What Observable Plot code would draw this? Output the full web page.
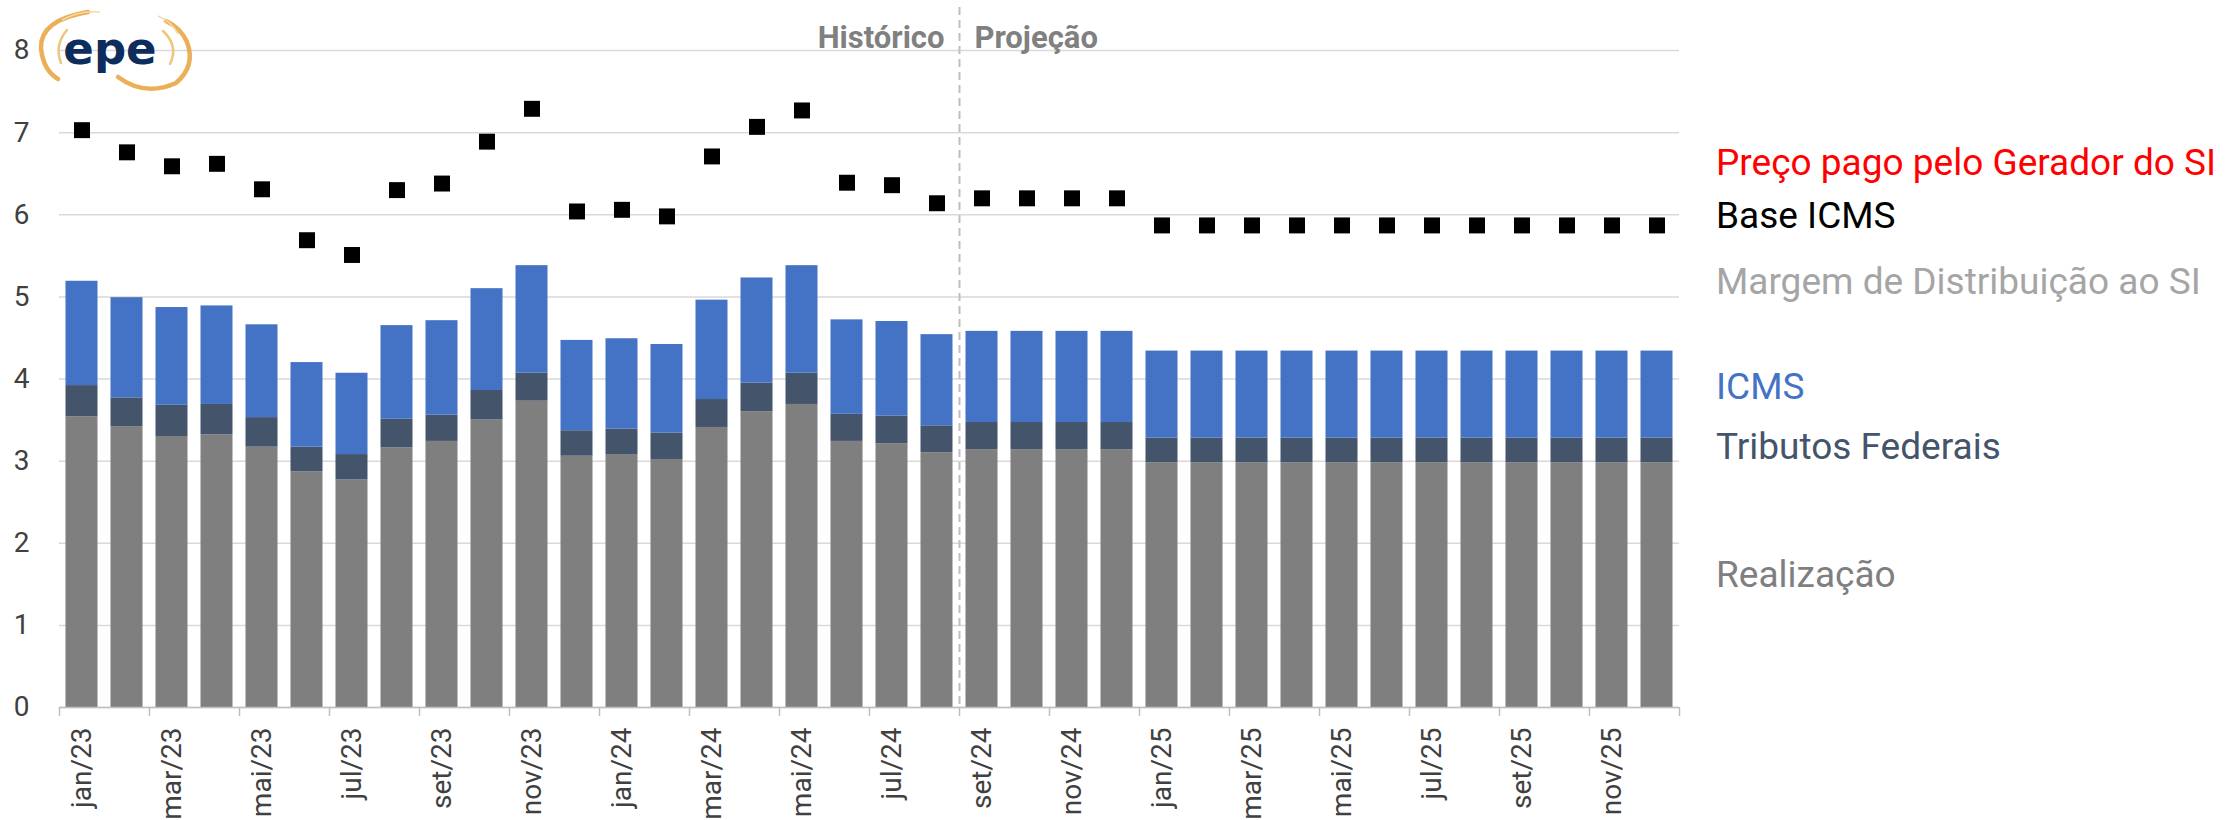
<!DOCTYPE html>
<html><head><meta charset="utf-8">
<script src="https://cdn.jsdelivr.net/npm/d3@7"></script>
<script src="https://cdn.jsdelivr.net/npm/@observablehq/plot@0.6"></script>
<style>
html,body{margin:0;padding:0;background:#fff;}
#wrap{position:relative;width:2229px;height:820px;overflow:hidden;font-family:Roboto,"Noto Sans",sans-serif;}
#legend div{position:absolute;left:1716px;white-space:nowrap;font-size:37px;line-height:1;transform:translateY(-50%);}
#logo{position:absolute;left:0;top:0;}
</style></head><body>
<div id="wrap"><div id="chart"></div><div id="legend"></div>
<svg id="logo" width="200" height="100" viewBox="0 0 200 100">
  <path d="M88,12 Q40,20 41,48 Q43,70 58,79" fill="none" stroke="#e8a23a" stroke-width="4.5" stroke-linecap="round" opacity="0.85"/>
  <path d="M118,77 Q145,97 176,83 Q196,66 187,42 Q181,28 166,21" fill="none" stroke="#e8a23a" stroke-width="4.5" stroke-linecap="round" opacity="0.85"/>
  <path d="M67,30 Q54,45 61,63" fill="none" stroke="#efc57e" stroke-width="2.5" stroke-linecap="round"/>
  <path d="M163,31 Q179,46 170,64" fill="none" stroke="#efc57e" stroke-width="2.5" stroke-linecap="round"/>
  <path d="M62,20 Q80,10 100,12" fill="none" stroke="#f3d9a8" stroke-width="1.5"/>
  <path d="M158,16 Q172,22 178,34" fill="none" stroke="#f3d9a8" stroke-width="1.5"/>
  <text x="110" y="64" text-anchor="middle" font-family="DejaVu Sans" font-weight="bold" font-size="45" fill="#0d2d5c">epe</text>
</svg>
</div>
<script>
const months = ["jan/23","fev/23","mar/23","abr/23","mai/23","jun/23","jul/23","ago/23","set/23","out/23","nov/23","dez/23",
  "jan/24","fev/24","mar/24","abr/24","mai/24","jun/24","jul/24","ago/24","set/24","out/24","nov/24","dez/24",
  "jan/25","fev/25","mar/25","abr/25","mai/25","jun/25","jul/25","ago/25","set/25","out/25","nov/25","dez/25"];
const realizacao = [3.54,3.42,3.30,3.32,3.17,2.87,2.77,3.16,3.24,3.50,3.73,3.06,
  3.08,3.02,3.41,3.60,3.69,3.24,3.21,3.10,3.14,3.14,3.14,3.14,
  2.98,2.98,2.98,2.98,2.98,2.98,2.98,2.98,2.98,2.98,2.98,2.98];
const tributosFederais = [0.38,0.35,0.38,0.37,0.36,0.30,0.31,0.35,0.32,0.36,0.34,0.31,
  0.31,0.32,0.34,0.35,0.38,0.33,0.34,0.33,0.33,0.33,0.33,0.33,
  0.30,0.30,0.30,0.30,0.30,0.30,0.30,0.30,0.30,0.30,0.30,0.30];
const icms = [1.27,1.22,1.19,1.20,1.13,1.03,0.99,1.14,1.15,1.24,1.31,1.10,
  1.10,1.08,1.21,1.28,1.31,1.15,1.15,1.11,1.11,1.11,1.11,1.11,
  1.06,1.06,1.06,1.06,1.06,1.06,1.06,1.06,1.06,1.06,1.06,1.06];
const baseIcms = [7.03,6.76,6.59,6.62,6.31,5.69,5.51,6.30,6.38,6.89,7.29,6.04,
  6.06,5.98,6.71,7.07,7.27,6.39,6.36,6.14,6.20,6.20,6.20,6.20,
  5.87,5.87,5.87,5.87,5.87,5.87,5.87,5.87,5.87,5.87,5.87,5.87];
const seriesNames = ["Realização","Tributos Federais","ICMS"];
const seriesColors = ["#7f7f7f","#44546a","#4472c4"];
const yTicks = [0,1,2,3,4,5,6,7,8];
const periodLabels = ["Histórico","Projeção"];
const projectionStart = 20;
const legendLabels = ["Preço pago pelo Gerador do SI","Base ICMS","Margem de Distribuição ao SI","ICMS","Tributos Federais","Realização"];
const legendColors = ["#ff0000","#000000","#a5a5a5","#4472c4","#44546a","#7f7f7f"];
const legendCenters = [162,215,281,386,446,574];

// build stacked rows
const seriesValues = [realizacao, tributosFederais, icms];
const rows = [];
months.forEach((m, i) => {
  let cum = 0;
  seriesValues.forEach((vals, s) => {
    rows.push({i, i2: i + 1, serie: seriesNames[s], y1: cum, y2: cum + vals[i]});
    cum += vals[i];
  });
});
const boundaries = d3.range(0, months.length + 1, 2);
const labelPos = d3.range(0, months.length, 2).map(i => i + 0.5);
const font = "Roboto, 'Noto Sans', sans-serif";

const chart = Plot.plot({
  width: 2229, height: 820,
  marginLeft: 59, marginRight: 550, marginTop: 50, marginBottom: 113,
  style: {fontFamily: font, background: "white", overflow: "visible"},
  x: {domain: [0, months.length], axis: null},
  y: {domain: [0, 8], axis: null},
  color: {domain: seriesNames, range: seriesColors},
  marks: [
    Plot.gridY(yTicks, {stroke: "#d9d9d9", strokeOpacity: 1, strokeWidth: 1.5}),
    Plot.axisY(yTicks, {tickSize: 0, tickPadding: 30, fontSize: 28, fill: "#404040", tickFormat: d => String(d)}),
    Plot.rectY(rows, {x1: "i", x2: "i2", y1: "y1", y2: "y2", fill: "serie", insetLeft: 6.5, insetRight: 6.5}),
    Plot.ruleY([0], {stroke: "#bfbfbf", strokeWidth: 1.5}),
    Plot.ruleX(boundaries, {x: d => d, y1: 0, y2: 0, insetBottom: -9, stroke: "#bfbfbf", strokeWidth: 1.5}),
    Plot.axisX(labelPos, {tickSize: 0, tickPadding: 20, tickRotate: -90, fontSize: 28, fill: "#404040",
      tickFormat: v => months[Math.round(v - 0.5)]}),
    Plot.ruleX([projectionStart], {stroke: "#bfbfbf", strokeWidth: 2, strokeDasharray: "8,5", insetTop: -43}),
    Plot.text([periodLabels[0]], {x: projectionStart, frameAnchor: "top", dy: -25, dx: -15, textAnchor: "end",
      fontSize: 31, fontWeight: "bold", fill: "#808080", text: d => d}),
    Plot.text([periodLabels[1]], {x: projectionStart, frameAnchor: "top", dy: -25, dx: 15, textAnchor: "start",
      fontSize: 31, fontWeight: "bold", fill: "#808080", text: d => d}),
    Plot.dot(baseIcms, {x: (d, i) => i + 0.5, y: d => d, symbol: "square", r: 9, fill: "black", stroke: "none"})
  ]
});
document.getElementById("chart").append(chart);

const legend = document.getElementById("legend");
legendLabels.forEach((lab, k) => {
  const div = document.createElement("div");
  div.textContent = lab;
  div.style.color = legendColors[k];
  div.style.top = legendCenters[k] + "px";
  legend.append(div);
});
</script>
</body></html>
